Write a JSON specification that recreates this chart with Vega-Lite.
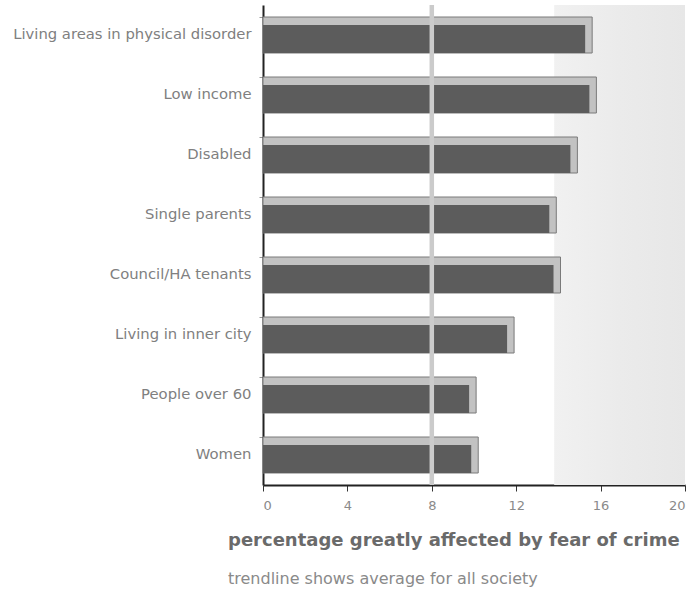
{
  "$schema": "https://vega.github.io/schema/vega-lite/v6.json",
  "width": 422,
  "height": 480,
  "autosize": "none",
  "padding": {"left": 263, "top": 5, "right": 11, "bottom": 122},
  "background": "white",
  "config": {
    "view": {"stroke": null},
    "font": "DejaVu Sans"
  },
  "title": {
    "text": "percentage greatly affected by fear of crime",
    "subtitle": "trendline shows average for all society",
    "orient": "bottom",
    "anchor": "start",
    "frame": "group",
    "dx": -35,
    "offset": 20,
    "font": "DejaVu Sans",
    "fontSize": 18,
    "fontWeight": "bold",
    "color": "#6a6a6a",
    "subtitleFont": "DejaVu Sans",
    "subtitleFontSize": 16,
    "subtitleColor": "#8a8a8a",
    "subtitlePadding": 21
  },
  "datasets": {
    "groups": [
      {"group": "Living areas in physical disorder", "pct": 15.6},
      {"group": "Low income", "pct": 15.8},
      {"group": "Disabled", "pct": 14.9},
      {"group": "Single parents", "pct": 13.9},
      {"group": "Council/HA tenants", "pct": 14.1},
      {"group": "Living in inner city", "pct": 11.9},
      {"group": "People over 60", "pct": 10.1},
      {"group": "Women", "pct": 10.2}
    ],
    "shade": [{"from": 13.8, "to": 20}],
    "average": [{"avg": 8}]
  },
  "layer": [
    {
      "data": {"name": "shade"},
      "mark": {
        "type": "rect",
        "color": {
          "gradient": "linear",
          "x1": 0, "x2": 1, "y1": 0, "y2": 0,
          "stops": [
            {"offset": 0, "color": "#f1f1f1"},
            {"offset": 0.5, "color": "#ebebeb"},
            {"offset": 1, "color": "#e7e7e7"}
          ]
        }
      },
      "encoding": {
        "x": {"field": "from", "type": "quantitative", "scale": {"domain": [0, 20]}},
        "x2": {"field": "to"}
      }
    },
    {
      "data": {"name": "groups"},
      "mark": {"type": "bar", "color": "#c2c2c2", "stroke": "#7a7a7a", "strokeWidth": 1},
      "encoding": {
        "y": {
          "field": "group",
          "type": "nominal",
          "sort": null,
          "scale": {"paddingInner": 0.4, "paddingOuter": 0.2},
          "axis": {
            "title": null,
            "domainColor": "#222222",
            "domainWidth": 2,
            "bandPosition": 0,
            "tickColor": "#999999",
            "tickSize": 4,
            "labelFont": "DejaVu Sans",
            "labelFontSize": 14.8,
            "labelColor": "#808080",
            "labelPadding": 8,
            "labelLimit": 300
          }
        },
        "x": {
          "field": "pct",
          "type": "quantitative",
          "stack": null,
          "scale": {"domain": [0, 20], "nice": false},
          "axis": {
            "title": null,
            "values": [0, 4, 8, 12, 16, 20],
            "grid": false,
            "domainColor": "#222222",
            "domainWidth": 2,
            "tickColor": "#333333",
            "tickSize": 6,
            "labelFont": "DejaVu Sans",
            "labelFontSize": 13,
            "labelColor": "#8a8a8a",
            "labelPadding": 8
          }
        },
        "x2": {"datum": 0}
      }
    },
    {
      "data": {"name": "groups"},
      "mark": {"type": "bar", "color": "#5c5c5c", "height": {"band": 0.78}, "yOffset": 4, "xOffset": -7},
      "encoding": {
        "y": {"field": "group", "type": "nominal", "sort": null},
        "x": {"field": "pct", "type": "quantitative", "stack": null},
        "x2": {"datum": 0}
      }
    },
    {
      "data": {"name": "average"},
      "mark": {"type": "rule", "color": "#cbcbcb", "strokeWidth": 4.5},
      "encoding": {
        "x": {"field": "avg", "type": "quantitative"}
      }
    }
  ]
}
